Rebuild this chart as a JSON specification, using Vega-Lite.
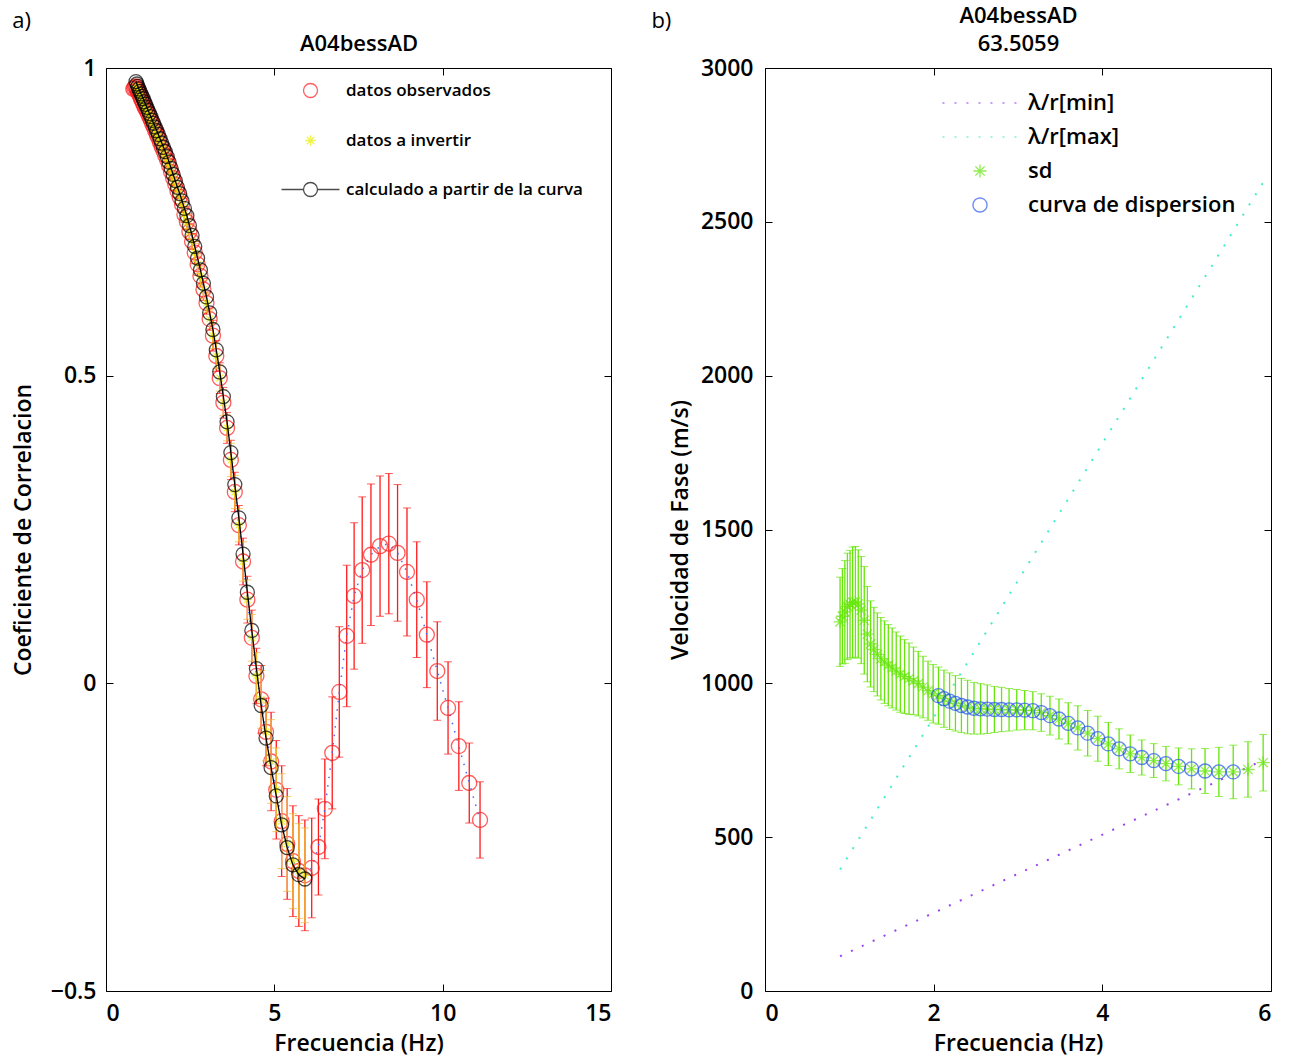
{
  "$schema": "https://vega.github.io/schema/vega-lite/v6.json",
  "background": "white",
  "padding": {"left": 11, "top": 4, "right": 5, "bottom": 5},
  "spacing": 38,
  "config": {
    "font": "Open Sans",
    "view": {"stroke": "black", "strokeWidth": 1},
    "axis": {"grid": false, "domain": false, "tickColor": "black", "tickSize": -7, "tickWidth": 1,
      "labelFont": "Open Sans", "labelFontSize": 23, "labelColor": "black", "labelFontWeight": 600,
      "titleFont": "Open Sans", "titleFontSize": 23, "titleFontWeight": 600, "titleColor": "black", "titleLineHeight": 28},
    "legend": {"symbolStrokeWidth": 1.3, "labelColor": "black", "labelFont": "Open Sans", "labelFontWeight": 600, "labelLimit": 400},
    "title": {"font": "Open Sans", "fontSize": 22, "fontWeight": "normal", "color": "black"}
  },
  "resolve": {"scale": {"color": "independent", "shape": "independent", "strokeDash": "independent"}, "legend": {"color": "independent", "shape": "independent", "strokeDash": "independent"}},
  "datasets": {
    "calc": [
      {"f":0.890,"y":0.978},{"f":0.918,"y":0.974},{"f":0.947,"y":0.970},{"f":0.977,"y":0.966},{"f":1.008,"y":0.962},{"f":1.039,"y":0.958},{"f":1.072,"y":0.954},{"f":1.106,"y":0.950},{"f":1.141,"y":0.945},{"f":1.177,"y":0.941},
      {"f":1.214,"y":0.936},{"f":1.252,"y":0.931},{"f":1.291,"y":0.926},{"f":1.332,"y":0.921},{"f":1.374,"y":0.915},{"f":1.417,"y":0.910},{"f":1.462,"y":0.904},{"f":1.508,"y":0.898},{"f":1.556,"y":0.892},{"f":1.605,"y":0.885},
      {"f":1.655,"y":0.878},{"f":1.708,"y":0.871},{"f":1.761,"y":0.864},{"f":1.817,"y":0.856},{"f":1.874,"y":0.847},{"f":1.933,"y":0.837},{"f":1.994,"y":0.827},{"f":2.057,"y":0.817},{"f":2.122,"y":0.806},{"f":2.189,"y":0.796},
      {"f":2.258,"y":0.784},{"f":2.329,"y":0.772},{"f":2.402,"y":0.760},{"f":2.478,"y":0.744},{"f":2.556,"y":0.728},{"f":2.636,"y":0.710},{"f":2.720,"y":0.691},{"f":2.805,"y":0.672},{"f":2.894,"y":0.650},{"f":2.985,"y":0.628},
      {"f":3.079,"y":0.602},{"f":3.176,"y":0.575},{"f":3.276,"y":0.542},{"f":3.379,"y":0.506},{"f":3.486,"y":0.466},{"f":3.596,"y":0.425},{"f":3.709,"y":0.375},{"f":3.826,"y":0.323},{"f":3.946,"y":0.269},{"f":4.071,"y":0.210},
      {"f":4.199,"y":0.148},{"f":4.331,"y":0.086},{"f":4.468,"y":0.024},{"f":4.609,"y":-0.036},{"f":4.754,"y":-0.089},{"f":4.904,"y":-0.137},{"f":5.058,"y":-0.183},{"f":5.218,"y":-0.230},{"f":5.382,"y":-0.267},{"f":5.552,"y":-0.295},
      {"f":5.727,"y":-0.311},{"f":5.907,"y":-0.318}
    ],
    "obs": [
      {"f":0.811,"y":0.966,"e":0.006},{"f":0.837,"y":0.967,"e":0.006},{"f":0.863,"y":0.969,"e":0.006},
      {"f":0.890,"y":0.970,"e":0.006},{"f":0.918,"y":0.966,"e":0.006},{"f":0.947,"y":0.962,"e":0.006},{"f":0.977,"y":0.958,"e":0.006},{"f":1.008,"y":0.954,"e":0.006},{"f":1.039,"y":0.950,"e":0.006},{"f":1.072,"y":0.946,"e":0.006},{"f":1.106,"y":0.942,"e":0.006},{"f":1.141,"y":0.937,"e":0.006},{"f":1.177,"y":0.933,"e":0.006},
      {"f":1.214,"y":0.930,"e":0.006},{"f":1.252,"y":0.925,"e":0.008},{"f":1.291,"y":0.920,"e":0.008},{"f":1.332,"y":0.915,"e":0.008},{"f":1.374,"y":0.909,"e":0.008},{"f":1.417,"y":0.904,"e":0.008},{"f":1.462,"y":0.898,"e":0.008},{"f":1.508,"y":0.892,"e":0.008},{"f":1.556,"y":0.886,"e":0.008},{"f":1.605,"y":0.879,"e":0.008},
      {"f":1.655,"y":0.872,"e":0.008},{"f":1.708,"y":0.865,"e":0.010},{"f":1.761,"y":0.858,"e":0.010},{"f":1.817,"y":0.850,"e":0.010},{"f":1.874,"y":0.841,"e":0.010},{"f":1.933,"y":0.831,"e":0.010},{"f":1.994,"y":0.821,"e":0.010},{"f":2.057,"y":0.811,"e":0.010},{"f":2.122,"y":0.800,"e":0.010},{"f":2.189,"y":0.790,"e":0.013},
      {"f":2.258,"y":0.778,"e":0.013},{"f":2.329,"y":0.762,"e":0.013},{"f":2.402,"y":0.750,"e":0.013},{"f":2.478,"y":0.734,"e":0.013},{"f":2.556,"y":0.718,"e":0.013},{"f":2.636,"y":0.700,"e":0.018},{"f":2.720,"y":0.681,"e":0.018},{"f":2.805,"y":0.662,"e":0.018},{"f":2.894,"y":0.640,"e":0.018},{"f":2.985,"y":0.618,"e":0.018},
      {"f":3.079,"y":0.592,"e":0.018},{"f":3.176,"y":0.565,"e":0.025},{"f":3.276,"y":0.532,"e":0.025},{"f":3.379,"y":0.496,"e":0.025},{"f":3.486,"y":0.456,"e":0.025},{"f":3.596,"y":0.415,"e":0.025},{"f":3.709,"y":0.363,"e":0.032},{"f":3.826,"y":0.311,"e":0.032},{"f":3.946,"y":0.257,"e":0.032},{"f":4.071,"y":0.198,"e":0.038},
      {"f":4.199,"y":0.136,"e":0.038},{"f":4.331,"y":0.074,"e":0.045},{"f":4.468,"y":0.012,"e":0.045},{"f":4.609,"y":-0.026,"e":0.055},{"f":4.754,"y":-0.079,"e":0.055},{"f":4.904,"y":-0.127,"e":0.080},{"f":5.058,"y":-0.173,"e":0.080},{"f":5.218,"y":-0.224,"e":0.090},{"f":5.382,"y":-0.261,"e":0.090},{"f":5.552,"y":-0.289,"e":0.090},
      {"f":5.727,"y":-0.305,"e":0.090},{"f":5.907,"y":-0.312,"e":0.090},
      {"f":6.11,"y":-0.300,"e":0.081},{"f":6.31,"y":-0.266,"e":0.078},{"f":6.50,"y":-0.204,"e":0.081},{"f":6.72,"y":-0.113,"e":0.091},{"f":6.93,"y":-0.014,"e":0.106},{"f":7.15,"y":0.077,"e":0.115},{"f":7.37,"y":0.142,"e":0.119},{"f":7.61,"y":0.184,"e":0.119},{"f":7.87,"y":0.209,"e":0.115},{"f":8.14,"y":0.223,"e":0.114},
      {"f":8.40,"y":0.227,"e":0.114},{"f":8.66,"y":0.212,"e":0.111},{"f":8.94,"y":0.181,"e":0.104},{"f":9.23,"y":0.136,"e":0.094},{"f":9.53,"y":0.079,"e":0.086},{"f":9.84,"y":0.020,"e":0.080},{"f":10.16,"y":-0.040,"e":0.075},{"f":10.48,"y":-0.102,"e":0.072},{"f":10.79,"y":-0.162,"e":0.065},{"f":11.11,"y":-0.222,"e":0.062}
    ],
    "inv": [
      {"f":0.890,"y":0.970,"e":0.005},{"f":0.918,"y":0.966,"e":0.005},{"f":0.947,"y":0.962,"e":0.005},{"f":0.977,"y":0.958,"e":0.005},{"f":1.008,"y":0.954,"e":0.005},{"f":1.039,"y":0.950,"e":0.005},{"f":1.072,"y":0.946,"e":0.005},{"f":1.106,"y":0.942,"e":0.005},{"f":1.141,"y":0.937,"e":0.005},{"f":1.177,"y":0.933,"e":0.005},
      {"f":1.214,"y":0.930,"e":0.005},{"f":1.252,"y":0.925,"e":0.007},{"f":1.291,"y":0.920,"e":0.007},{"f":1.332,"y":0.915,"e":0.007},{"f":1.374,"y":0.909,"e":0.007},{"f":1.417,"y":0.904,"e":0.007},{"f":1.462,"y":0.898,"e":0.007},{"f":1.508,"y":0.892,"e":0.007},{"f":1.556,"y":0.886,"e":0.007},{"f":1.605,"y":0.879,"e":0.007},
      {"f":1.655,"y":0.872,"e":0.007},{"f":1.708,"y":0.865,"e":0.0085},{"f":1.761,"y":0.858,"e":0.0085},{"f":1.817,"y":0.850,"e":0.0085},{"f":1.874,"y":0.841,"e":0.0085},{"f":1.933,"y":0.831,"e":0.0085},{"f":1.994,"y":0.821,"e":0.0085},{"f":2.057,"y":0.811,"e":0.0085},{"f":2.122,"y":0.800,"e":0.0085},{"f":2.189,"y":0.790,"e":0.011},
      {"f":2.258,"y":0.778,"e":0.011},{"f":2.329,"y":0.762,"e":0.011},{"f":2.402,"y":0.750,"e":0.011},{"f":2.478,"y":0.734,"e":0.011},{"f":2.556,"y":0.718,"e":0.011},{"f":2.636,"y":0.700,"e":0.015},{"f":2.720,"y":0.681,"e":0.015},{"f":2.805,"y":0.662,"e":0.015},{"f":2.894,"y":0.640,"e":0.015},{"f":2.985,"y":0.618,"e":0.015},
      {"f":3.079,"y":0.592,"e":0.015},{"f":3.176,"y":0.565,"e":0.021},{"f":3.276,"y":0.532,"e":0.021},{"f":3.379,"y":0.496,"e":0.021},{"f":3.486,"y":0.456,"e":0.021},{"f":3.596,"y":0.415,"e":0.021},{"f":3.709,"y":0.363,"e":0.027},{"f":3.826,"y":0.311,"e":0.027},{"f":3.946,"y":0.257,"e":0.027},{"f":4.071,"y":0.198,"e":0.032},
      {"f":4.199,"y":0.136,"e":0.032},{"f":4.331,"y":0.074,"e":0.038},{"f":4.468,"y":0.012,"e":0.038},{"f":4.609,"y":-0.026,"e":0.047},{"f":4.754,"y":-0.079,"e":0.047},{"f":4.904,"y":-0.127,"e":0.068},{"f":5.058,"y":-0.173,"e":0.068},{"f":5.218,"y":-0.224,"e":0.077},{"f":5.382,"y":-0.261,"e":0.077},{"f":5.552,"y":-0.289,"e":0.077},
      {"f":5.727,"y":-0.305,"e":0.077},{"f":5.907,"y":-0.312,"e":0.077}
    ],
    "sd": [
      {"f":0.890,"v":1200,"e":145},{"f":0.918,"v":1218,"e":155},{"f":0.947,"v":1232,"e":167},{"f":0.977,"v":1250,"e":173},{"f":1.008,"v":1257,"e":175},{"f":1.039,"v":1263,"e":180},{"f":1.072,"v":1265,"e":180},{"f":1.106,"v":1258,"e":176},{"f":1.141,"v":1238,"e":174},{"f":1.177,"v":1205,"e":175},
      {"f":1.214,"v":1160,"e":155},{"f":1.252,"v":1128,"e":140},{"f":1.291,"v":1110,"e":137},{"f":1.332,"v":1094,"e":135},{"f":1.374,"v":1080,"e":134},{"f":1.417,"v":1069,"e":134},{"f":1.462,"v":1059,"e":132},{"f":1.508,"v":1050,"e":130},{"f":1.556,"v":1040,"e":127},{"f":1.605,"v":1030,"e":124},
      {"f":1.655,"v":1022,"e":120},{"f":1.708,"v":1015,"e":116},{"f":1.761,"v":1008,"e":110},{"f":1.817,"v":999,"e":105},{"f":1.874,"v":988,"e":100},{"f":1.933,"v":976,"e":96},{"f":1.994,"v":966,"e":95},{"f":2.057,"v":960,"e":93},{"f":2.122,"v":950,"e":93},{"f":2.189,"v":942,"e":92},
      {"f":2.258,"v":935,"e":90},{"f":2.329,"v":928,"e":88},{"f":2.402,"v":923,"e":87},{"f":2.478,"v":919,"e":84},{"f":2.556,"v":917,"e":82},{"f":2.636,"v":916,"e":79},{"f":2.720,"v":915,"e":75},{"f":2.805,"v":915,"e":72},{"f":2.894,"v":914,"e":69},{"f":2.985,"v":914,"e":66},
      {"f":3.079,"v":913,"e":64},{"f":3.176,"v":911,"e":62},{"f":3.276,"v":905,"e":61},{"f":3.379,"v":895,"e":63},{"f":3.486,"v":884,"e":65},{"f":3.596,"v":870,"e":67},{"f":3.709,"v":855,"e":72},{"f":3.826,"v":838,"e":74},{"f":3.946,"v":820,"e":73},{"f":4.071,"v":803,"e":70},
      {"f":4.199,"v":787,"e":65},{"f":4.331,"v":771,"e":61},{"f":4.468,"v":759,"e":57},{"f":4.609,"v":749,"e":55},{"f":4.754,"v":739,"e":56},{"f":4.904,"v":730,"e":60},{"f":5.058,"v":722,"e":65},{"f":5.218,"v":715,"e":73},{"f":5.382,"v":712,"e":80},{"f":5.552,"v":712,"e":87},
      {"f":5.727,"v":720,"e":90},{"f":5.907,"v":742,"e":92}
    ],
    "disp": [
      {"f":2.057,"v":960},{"f":2.122,"v":950},{"f":2.189,"v":942},{"f":2.258,"v":935},{"f":2.329,"v":928},{"f":2.402,"v":923},{"f":2.478,"v":919},{"f":2.556,"v":917},{"f":2.636,"v":916},{"f":2.720,"v":915},
      {"f":2.805,"v":915},{"f":2.894,"v":914},{"f":2.985,"v":914},{"f":3.079,"v":913},{"f":3.176,"v":911},{"f":3.276,"v":905},{"f":3.379,"v":895},{"f":3.486,"v":884},{"f":3.596,"v":870},{"f":3.709,"v":855},
      {"f":3.826,"v":838},{"f":3.946,"v":820},{"f":4.071,"v":803},{"f":4.199,"v":787},{"f":4.331,"v":771},{"f":4.468,"v":759},{"f":4.609,"v":749},{"f":4.754,"v":739},{"f":4.904,"v":730},{"f":5.058,"v":722},
      {"f":5.218,"v":715},{"f":5.382,"v":712},{"f":5.552,"v":712}
    ],
    "lmin": [{"f":0.89,"v":113},{"f":5.92,"v":752}],
    "lmax": [{"f":0.89,"v":395},{"f":5.92,"v":2634}]
  },
  "hconcat": [
    {
      "width": 505, "height": 923,
      "title": {"text": "a)", "anchor": "start", "offset": 0, "dy": 28},
      "resolve": {"axis": {"x": "independent", "y": "independent"}},
      "layer": [
        {"data": {"name": "obs"},
         "mark": {"type": "errorbar", "color": "#ff1a1a", "ticks": {"size": 8}, "rule": {"strokeWidth": 1.3}},
         "encoding": {
           "x": {"field": "f", "type": "quantitative", "scale": {"domain": [0, 15], "nice": false, "zero": false}, "axis": null},
           "y": {"field": "y", "type": "quantitative", "scale": {"domain": [-0.5, 1], "nice": false, "zero": false}, "axis": null},
           "yError": {"field": "e"}}},
        {"data": {"name": "obs"},
         "mark": {"type": "line", "color": "#4a6cf7", "strokeWidth": 1.5, "strokeDash": [1.5, 7]},
         "encoding": {
           "x": {"field": "f", "type": "quantitative", "axis": {"orient": "bottom", "title": "Frecuencia (Hz)", "values": [0, 5, 10, 15], "format": "d", "labelPadding": 18, "titlePadding": 7}},
           "y": {"field": "y", "type": "quantitative", "axis": {"orient": "left", "title": "Coeficiente de Correlacion", "values": [-0.5, 0, 0.5, 1], "format": "~g", "labelPadding": 17, "titlePadding": 15}}}},
        {"data": {"name": "obs"},
         "mark": {"type": "point", "filled": false, "size": 225, "strokeWidth": 1.3},
         "encoding": {
           "x": {"field": "f", "type": "quantitative", "axis": null},
           "y": {"field": "y", "type": "quantitative", "axis": null},
           "color": {"datum": "datos observados", "type": "nominal",
             "scale": {"domain": ["datos observados", "datos a invertir", "calculado a partir de la curva"], "range": ["#ff1a1a", "#e6ee00", "black"]},
             "legend": {"orient": "none", "legendX": 196, "legendY": 14, "title": null, "padding": 0, "symbolSize": 196, "labelOffset": 27, "rowPadding": 30, "labelFontSize": 17}},
           "shape": {"datum": "datos observados", "type": "nominal",
             "scale": {"domain": ["datos observados", "datos a invertir", "calculado a partir de la curva"],
               "range": ["circle", "M-0.75,0L0.75,0M0,-0.75L0,0.75M-0.53,-0.53L0.53,0.53M-0.53,0.53L0.53,-0.53", "M-4.14,0L-1,0M1,0L4.14,0M1,0A1,1,0,1,1,-1,0A1,1,0,1,1,1,0"]},
             "legend": {"orient": "none", "legendX": 196, "legendY": 14, "title": null, "padding": 0, "symbolSize": 196, "labelOffset": 27, "rowPadding": 30, "labelFontSize": 17}}}},
        {"data": {"name": "inv"},
         "mark": {"type": "errorbar", "color": "#f2b531", "ticks": {"size": 8}, "rule": {"strokeWidth": 1.3}},
         "encoding": {
           "x": {"field": "f", "type": "quantitative", "axis": null},
           "y": {"field": "y", "type": "quantitative", "axis": null},
           "yError": {"field": "e"}}},
        {"data": {"name": "inv"},
         "mark": {"type": "point", "filled": false, "size": 160, "strokeWidth": 1.2},
         "encoding": {
           "x": {"field": "f", "type": "quantitative", "axis": null},
           "y": {"field": "y", "type": "quantitative", "axis": null},
           "color": {"datum": "datos a invertir", "type": "nominal"},
           "shape": {"datum": "datos a invertir", "type": "nominal"}}},
        {"data": {"name": "calc"},
         "mark": {"type": "line", "strokeWidth": 1.3},
         "encoding": {
           "x": {"field": "f", "type": "quantitative", "axis": {"orient": "top", "title": [" ", "A04bessAD"], "titleFontSize": 22, "labels": false, "values": [0, 5, 10, 15], "titlePadding": 12}},
           "y": {"field": "y", "type": "quantitative", "axis": {"orient": "right", "title": null, "labels": false, "values": [-0.5, 0, 0.5, 1]}},
           "color": {"datum": "calculado a partir de la curva", "type": "nominal"}}},
        {"data": {"name": "calc"},
         "mark": {"type": "point", "shape": "circle", "filled": false, "size": 196, "strokeWidth": 1.3},
         "encoding": {
           "x": {"field": "f", "type": "quantitative", "axis": null},
           "y": {"field": "y", "type": "quantitative", "axis": null},
           "color": {"datum": "calculado a partir de la curva", "type": "nominal"}}}
      ]
    },
    {
      "width": 506, "height": 923,
      "title": {"text": "b)", "anchor": "start", "offset": 0, "dy": 28, "dx": -18},
      "resolve": {"axis": {"x": "independent", "y": "independent"}},
      "layer": [
        {"data": {"name": "lmin"},
         "mark": {"type": "line", "strokeWidth": 2},
         "encoding": {
           "x": {"field": "f", "type": "quantitative", "scale": {"domain": [0, 6], "nice": false, "zero": false},
             "axis": {"orient": "bottom", "title": "Frecuencia (Hz)", "values": [0, 2, 4, 6], "format": "d", "labelPadding": 18, "titlePadding": 7}},
           "y": {"field": "v", "type": "quantitative", "scale": {"domain": [0, 3000], "nice": false, "zero": false},
             "axis": {"orient": "left", "title": "Velocidad de Fase (m/s)", "values": [0, 500, 1000, 1500, 2000, 2500, 3000], "format": "d", "labelPadding": 19, "titlePadding": 8}},
           "color": {"datum": "λ/r[min]", "type": "nominal",
             "scale": {"domain": ["λ/r[min]", "λ/r[max]", "sd", "curva de dispersion"], "range": ["#9944ee", "#44eecc", "#66e60a", "#2255ee"]},
             "legend": {"orient": "none", "legendX": 204, "legendY": 24, "title": null, "padding": 0, "symbolSize": 196, "labelOffset": 37, "rowPadding": 12, "labelFontSize": 22}},
           "strokeDash": {"datum": "λ/r[min]", "type": "nominal",
             "scale": {"domain": ["λ/r[min]", "λ/r[max]", "sd", "curva de dispersion"], "range": [[2, 10], [2, 10], [1, 0], [1, 0]]},
             "legend": {"orient": "none", "legendX": 204, "legendY": 24, "title": null, "padding": 0, "symbolSize": 196, "labelOffset": 37, "rowPadding": 12, "labelFontSize": 22}}}},
        {"data": {"name": "lmax"},
         "mark": {"type": "line", "strokeWidth": 2},
         "encoding": {
           "x": {"field": "f", "type": "quantitative", "axis": {"orient": "top", "title": ["A04bessAD", "63.5059"], "titleFontSize": 22, "labels": false, "values": [0, 2, 4, 6], "titlePadding": 12}},
           "y": {"field": "v", "type": "quantitative", "axis": {"orient": "right", "title": null, "labels": false, "values": [0, 500, 1000, 1500, 2000, 2500, 3000]}},
           "color": {"datum": "λ/r[max]", "type": "nominal"},
           "strokeDash": {"datum": "λ/r[max]", "type": "nominal"}}},
        {"data": {"name": "sd"},
         "mark": {"type": "errorbar", "color": "#66e60a", "ticks": {"size": 8}, "rule": {"strokeWidth": 1.3}},
         "encoding": {
           "x": {"field": "f", "type": "quantitative", "axis": null},
           "y": {"field": "v", "type": "quantitative", "axis": null},
           "yError": {"field": "e"}}},
        {"data": {"name": "sd"},
         "mark": {"type": "point", "filled": false, "size": 196, "strokeWidth": 1.3},
         "encoding": {
           "x": {"field": "f", "type": "quantitative", "axis": null},
           "y": {"field": "v", "type": "quantitative", "axis": null},
           "color": {"datum": "sd", "type": "nominal"},
           "shape": {"datum": "sd", "type": "nominal",
             "scale": {"domain": ["λ/r[min]", "λ/r[max]", "sd", "curva de dispersion"],
               "range": ["M-5.36,0L5.36,0", "M-5.36,0L5.36,0", "M-0.93,0L0.93,0M0,-0.93L0,0.93M-0.66,-0.66L0.66,0.66M-0.66,0.66L0.66,-0.66", "circle"]},
             "legend": {"orient": "none", "legendX": 204, "legendY": 24, "title": null, "padding": 0, "symbolSize": 196, "labelOffset": 37, "rowPadding": 12, "labelFontSize": 22}}}},
        {"data": {"name": "disp"},
         "mark": {"type": "point", "filled": false, "size": 196, "strokeWidth": 1.3},
         "encoding": {
           "x": {"field": "f", "type": "quantitative", "axis": null},
           "y": {"field": "v", "type": "quantitative", "axis": null},
           "color": {"datum": "curva de dispersion", "type": "nominal"},
           "shape": {"datum": "curva de dispersion", "type": "nominal"}}}
      ]
    }
  ]
}
